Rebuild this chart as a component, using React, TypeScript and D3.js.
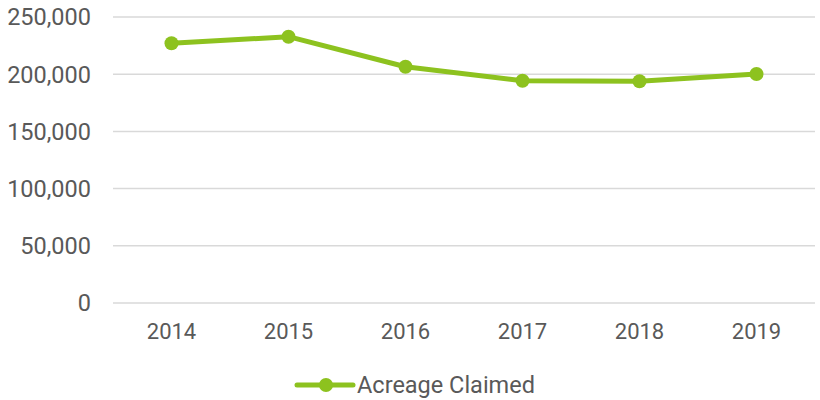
import React from "react";
import * as d3 from "d3";

const years = ["2014", "2015", "2016", "2017", "2018", "2019"];
const acreage = [227000, 232800, 206500, 194300, 193900, 200200];
const yTicks = [0, 50000, 100000, 150000, 200000, 250000];
const seriesName = "Acreage Claimed";

const W = 820;
const H = 400;
const plot = { left: 113, right: 815, top: 17, bottom: 303 };
const green = "#8DC21F";
const textColor = "#595959";
const font = "Roboto, 'Open Sans', sans-serif";

export default function App() {
  const x = d3.scaleBand<string>().domain(years).range([plot.left, plot.right]);
  const y = d3.scaleLinear().domain([0, 250000]).range([plot.bottom, plot.top]);
  const fmt = d3.format(",");
  const line = d3
    .line<number>()
    .x((_, i) => (x(years[i]) as number) + x.bandwidth() / 2)
    .y((d) => y(d));

  return (
    <svg
      width={W}
      height={H}
      style={{ position: "absolute", left: 0, top: 0, background: "#fff" }}
      fontFamily={font}
    >
      {yTicks.map((t) => (
        <g key={t}>
          <line x1={plot.left} x2={plot.right} y1={y(t)} y2={y(t)} stroke="#d9d9d9" strokeWidth={1.5} />
          <text x={91} y={y(t)} dy="0.36em" textAnchor="end" fontSize={23.5} fill={textColor}>
            {fmt(t)}
          </text>
        </g>
      ))}
      {years.map((yr) => (
        <text
          key={yr}
          x={(x(yr) as number) + x.bandwidth() / 2}
          y={331}
          dy="0.36em"
          textAnchor="middle"
          fontSize={22}
          fill={textColor}
        >
          {yr}
        </text>
      ))}
      <path d={line(acreage) || ""} fill="none" stroke={green} strokeWidth={5} strokeLinejoin="round" />
      {acreage.map((v, i) => (
        <circle key={i} cx={(x(years[i]) as number) + x.bandwidth() / 2} cy={y(v)} r={7} fill={green} />
      ))}
      <g>
        <line x1={297} x2={353} y1={385} y2={385} stroke={green} strokeWidth={5} strokeLinecap="round" />
        <circle cx={326} cy={385} r={7} fill={green} />
        <text x={357} y={385} dy="0.36em" fontSize={23.5} fill={textColor}>
          {seriesName}
        </text>
      </g>
    </svg>
  );
}
